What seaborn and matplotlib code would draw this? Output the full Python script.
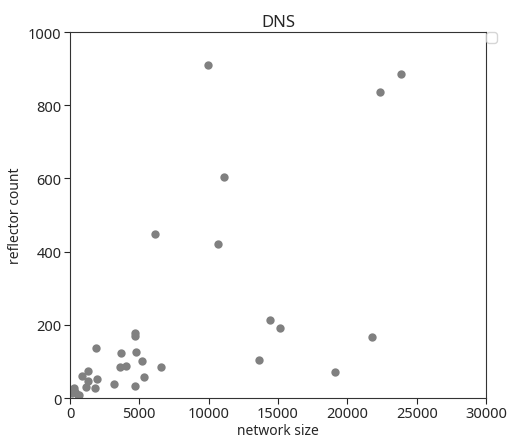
import matplotlib
matplotlib.use("Agg")
import matplotlib.pyplot as plt
import seaborn as sns
import pandas as pd

network_size = [9950, 23890, 22360, 21760, 11130, 6150, 10670, 14420, 15140, 13630, 19100,
                4660, 4680, 4740, 3650, 5170, 3630, 4010, 6590, 5340, 3150, 4710,
                1875, 890, 1300, 1320, 1950, 1180, 1780,
                240, 360, 550, 120, 650, 300]
reflector_count = [910, 884, 836, 166, 604, 448, 421, 213, 191, 104, 71,
                   177, 169, 127, 122, 101, 86, 88, 85, 57, 37, 33,
                   137, 61, 75, 47, 52, 30, 28,
                   25, 17, 9, 15, 8, 27]

df = pd.DataFrame({"network size": network_size, "reflector count": reflector_count})

sns.set_style("ticks")
plt.rcParams['font.family'] = ['Noto Sans', 'DejaVu Sans']

fig = plt.figure(figsize=(5.07, 4.39), dpi=100)
ax = fig.add_axes([0.138, 0.0911, 0.8206, 0.8337])
sns.scatterplot(data=df, x="network size", y="reflector count", color="#808080",
                s=36, linewidth=0, ax=ax)
ax.set_xlim(0, 30000)
ax.set_ylim(0, 1000)
ax.set_xticks([0, 5000, 10000, 15000, 20000, 25000, 30000])
ax.set_yticks([0, 200, 400, 600, 800, 1000])
ax.set_title("DNS", fontsize=12, pad=4)
ax.set_xlabel("network size", fontsize=10, labelpad=1)
ax.set_ylabel("reflector count", fontsize=10, labelpad=4)
ax.tick_params(labelsize=10.5, length=4, pad=2)
for sp in ax.spines.values():
    sp.set_color("#333333")
ax.legend(handles=[], loc="upper left", bbox_to_anchor=(1, 1), borderaxespad=0)
fig.savefig("out.png", dpi=100)
